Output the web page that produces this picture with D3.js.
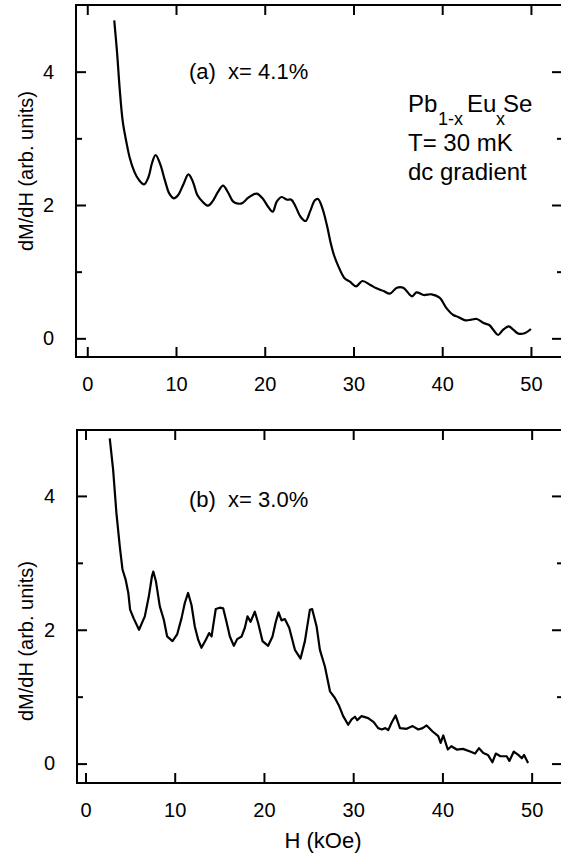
<!DOCTYPE html>
<html>
<head>
<meta charset="utf-8">
<script src="https://cdn.jsdelivr.net/npm/d3@7"></script>
<style>
body { margin: 0; background: #fff; }
text { font-family: "Liberation Sans", Arial, sans-serif; fill: #000; }
</style>
</head>
<body>
<div id="chart"></div>
<script>
// panel (a) x = 4.1%
var hA = [3.04,3.35,3.65,4.0,4.4,4.8,5.3,5.8,6.4,6.9,7.3,7.7,8.2,8.75,9.25,9.75,10.25,10.8,11.4,11.9,12.4,13.0,13.6,14.1,14.75,15.3,15.9,16.45,17.0,17.5,18.15,19.1,19.75,20.4,20.9,21.35,21.9,22.5,23.0,23.5,24.05,24.6,25.1,25.65,26.0,26.5,27.0,27.4,27.8,28.3,29.0,29.6,30.3,31.0,31.9,32.6,33.4,34.1,34.9,35.6,36.6,37.1,37.9,38.8,39.7,40.5,41.25,41.8,42.6,43.3,43.9,44.65,45.3,45.8,46.3,46.8,47.5,48.0,48.6,49.35,50.0];
var dA = [4.77,4.30,3.75,3.25,2.95,2.70,2.50,2.38,2.31,2.42,2.63,2.75,2.62,2.37,2.17,2.10,2.15,2.30,2.46,2.35,2.15,2.05,1.99,2.05,2.20,2.29,2.18,2.05,2.02,2.03,2.11,2.17,2.10,1.97,1.90,2.05,2.12,2.08,2.08,1.97,1.82,1.76,1.90,2.07,2.09,1.95,1.70,1.45,1.25,1.08,0.90,0.85,0.78,0.86,0.80,0.75,0.71,0.67,0.76,0.76,0.63,0.69,0.65,0.66,0.61,0.45,0.35,0.32,0.27,0.28,0.29,0.23,0.20,0.12,0.05,0.12,0.18,0.13,0.07,0.08,0.14];
// panel (b) x = 3.0%
var hB = [2.72,3.1,3.47,3.85,4.15,4.5,4.8,5.0,5.4,6.0,6.65,7.1,7.45,7.6,7.9,8.33,8.78,9.15,9.75,10.27,10.76,11.13,11.5,11.88,12.25,12.63,13.0,13.49,13.86,14.13,14.3,14.6,15.06,15.43,15.8,16.18,16.63,17.0,17.5,17.86,18.16,18.5,18.98,19.35,19.84,20.47,20.96,21.33,21.64,21.97,22.34,22.83,23.47,24.1,24.59,25.15,25.4,25.9,26.27,26.83,27.4,27.95,28.43,28.88,29.44,29.82,30.2,30.45,30.94,31.68,32.3,32.8,33.2,33.6,33.93,34.3,34.75,35.24,35.99,36.66,37.3,37.78,38.23,38.9,39.53,39.8,40.1,40.6,41.0,41.6,42.3,43.1,43.65,44.1,44.58,45.1,45.6,45.98,46.5,47.2,47.5,48.0,48.5,48.9,49.15,49.6];
var dB = [4.86,4.39,3.74,3.24,2.90,2.75,2.55,2.30,2.17,2.00,2.20,2.50,2.80,2.87,2.72,2.35,2.15,1.90,1.83,1.93,2.17,2.40,2.55,2.37,2.05,1.85,1.73,1.85,1.95,1.90,2.05,2.31,2.33,2.32,2.12,1.90,1.76,1.86,1.90,2.03,2.20,2.12,2.27,2.10,1.83,1.76,1.90,2.12,2.26,2.14,2.16,2.03,1.70,1.57,1.83,2.30,2.31,2.05,1.70,1.45,1.08,0.98,0.86,0.71,0.58,0.66,0.70,0.65,0.71,0.68,0.62,0.53,0.51,0.53,0.50,0.61,0.72,0.53,0.52,0.56,0.51,0.53,0.57,0.48,0.41,0.31,0.42,0.21,0.26,0.21,0.22,0.18,0.15,0.23,0.16,0.13,0.02,0.15,0.11,0.11,0.04,0.18,0.13,0.08,0.13,0.01];

var xTicks = [0,10,20,30,40,50];
var yMajor = [0,2,4];
var yMinor = [1,3];

var svg = d3.select("#chart").append("svg").attr("width", 561).attr("height", 854);

function panel(h, d, box, curve, note) {
    var x = d3.scaleLinear().domain(box.xd).range([box.left, box.right]);
    var y = d3.scaleLinear().domain(box.yd).range([box.bottom, box.top]);
    var g = svg.append("g");

    // frame
    g.append("path")
        .attr("d", "M" + box.left + "," + box.bottom + "V" + box.top + "H" + box.right + "V" + box.bottom + "Z")
        .attr("fill", "none").attr("stroke", "#000").attr("stroke-width", 2);

    // bottom axis, ticks inside
    var ax = g.append("g").attr("transform", "translate(0," + box.bottom + ")")
        .call(d3.axisBottom(x).tickValues(xTicks).tickSize(-10).tickPadding(20).tickFormat(d3.format("d")));
    var ax2 = g.append("g").attr("transform", "translate(0," + box.top + ")")
        .call(d3.axisTop(x).tickValues(xTicks).tickSize(-10).tickFormat(""));
    var ay = g.append("g").attr("transform", "translate(" + box.left + ",0)")
        .call(d3.axisLeft(y).tickValues(yMajor).tickSize(-10).tickPadding(22).tickFormat(d3.format("d")));
    var ay2 = g.append("g").attr("transform", "translate(" + box.left + ",0)")
        .call(d3.axisLeft(y).tickValues(yMinor).tickSize(-6).tickFormat(""));
    var ar = g.append("g").attr("transform", "translate(" + box.right + ",0)")
        .call(d3.axisRight(y).tickValues(yMajor).tickSize(-10).tickFormat(""));
    var ar2 = g.append("g").attr("transform", "translate(" + box.right + ",0)")
        .call(d3.axisRight(y).tickValues(yMinor).tickSize(-5).tickFormat(""));
    [ax, ax2, ay, ay2, ar, ar2].forEach(function(a) {
        a.select(".domain").remove();
        a.selectAll("line").attr("stroke", "#000").attr("stroke-width", 2);
        a.selectAll("text").style("font-size", "20px").attr("font-family", null);
    });

    // curve
    var pts = h.map(function(v, i) { return [v, d[i]]; });
    g.append("path")
        .datum(pts)
        .attr("fill", "none")
        .attr("stroke", "#000")
        .attr("stroke-width", 2.2)
        .attr("stroke-linejoin", "round")
        .attr("d", d3.line().x(function(p) { return x(p[0]); }).y(function(p) { return y(p[1]); }).curve(curve));

    g.append("text")
        .attr("x", 33).attr("y", box.labelY)
        .attr("transform", "rotate(-90,33," + box.labelY + ")")
        .attr("text-anchor", "middle")
        .style("font-size", "20px")
        .text("dM/dH (arb. units)");

    g.append("text")
        .attr("x", 189).attr("y", box.noteY)
        .style("font-size", "22px")
        .style("white-space", "pre")
        .text(note);
}

panel(hA, dA, {left: 76, right: 562, top: 5, bottom: 357, xd: [-1.27, 53.5], yd: [-0.28, 5.0], labelY: 171, noteY: 79},
      d3.curveCatmullRom, "(a)  x= 4.1%");
panel(hB, dB, {left: 77, right: 562, top: 430, bottom: 783, xd: [-0.95, 53.4], yd: [-0.29, 4.985], labelY: 641, noteY: 507},
      d3.curveLinear, "(b)  x= 3.0%");

// sample label
var lab = svg.append("g").style("font-size", "24px");
lab.append("text").attr("x", 408).attr("y", 112).text("Pb");
lab.append("text").attr("x", 438).attr("y", 125).style("font-size", "18px").text("1-x");
lab.append("text").attr("x", 467).attr("y", 112).text("Eu");
lab.append("text").attr("x", 496).attr("y", 125).style("font-size", "18px").text("x");
lab.append("text").attr("x", 503).attr("y", 112).text("Se");
lab.append("text").attr("x", 408).attr("y", 151).text("T= 30 mK");
lab.append("text").attr("x", 408).attr("y", 180).text("dc gradient");

svg.append("text")
    .attr("x", 323).attr("y", 848)
    .attr("text-anchor", "middle")
    .style("font-size", "22px")
    .text("H (kOe)");
</script>
</body>
</html>
